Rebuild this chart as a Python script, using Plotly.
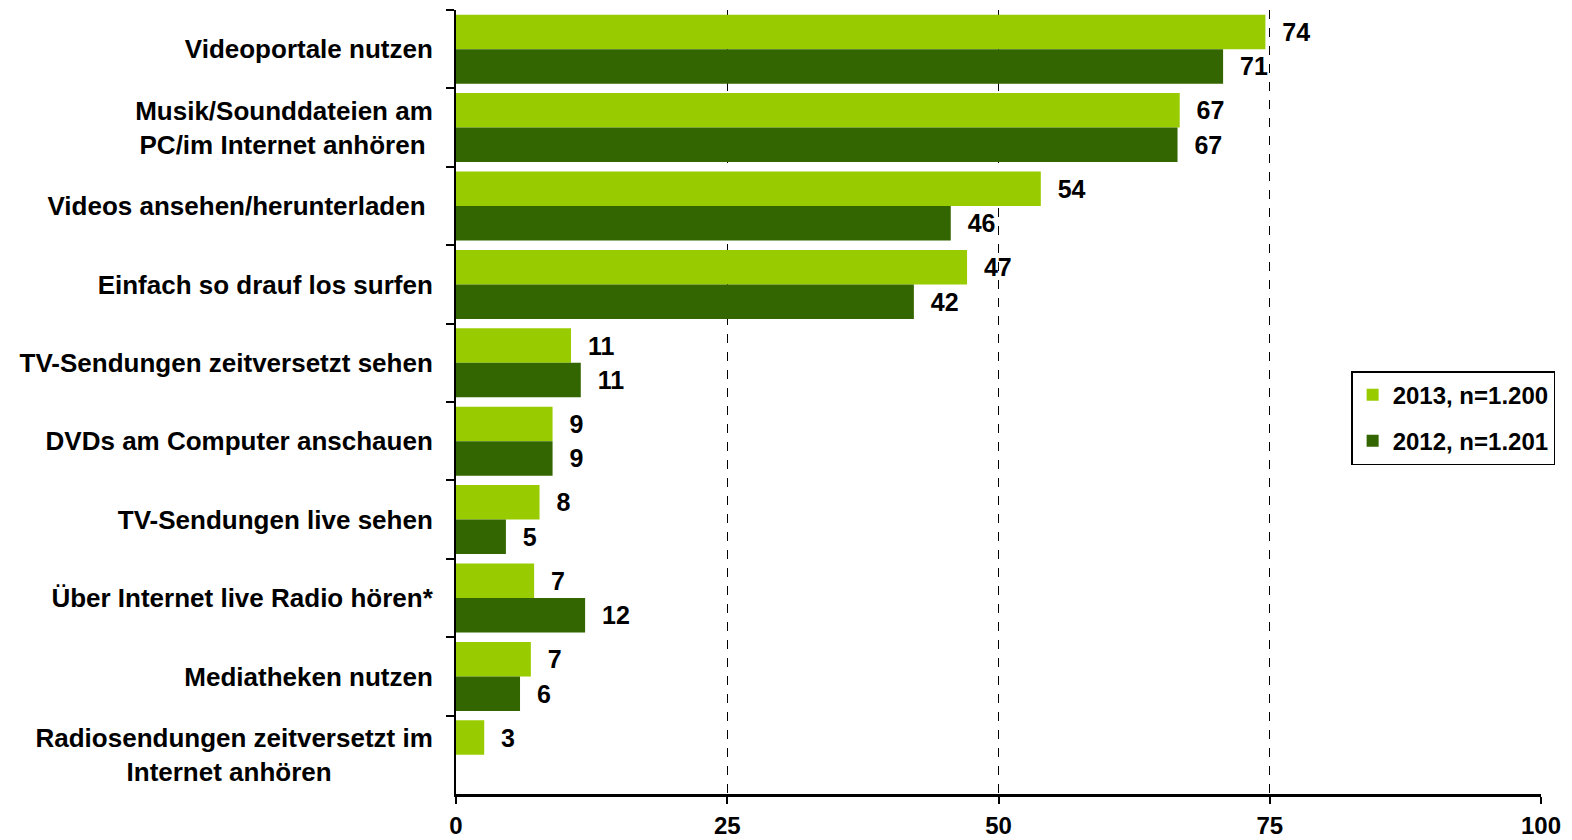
import plotly.graph_objects as go

categories = [
    "Videoportale nutzen",
    "Musik/Sounddateien am<br>PC/im Internet anhören\u00a0",
    "Videos ansehen/herunterladen\u00a0",
    "Einfach so drauf los surfen",
    "TV-Sendungen zeitversetzt sehen",
    "DVDs am Computer anschauen",
    "TV-Sendungen live sehen",
    "Über Internet live Radio hören*",
    "Mediatheken nutzen",
    "Radiosendungen zeitversetzt im<br>Internet anhören" + "\u00a0" * 14,
]
values_2013 = [74.6, 66.7, 53.9, 47.1, 10.6, 8.9, 7.7, 7.2, 6.9, 2.6]
values_2012 = [70.7, 66.5, 45.6, 42.2, 11.5, 8.9, 4.6, 11.9, 5.9, None]
labels_2013 = [74, 67, 54, 47, 11, 9, 8, 7, 7, 3]
labels_2012 = [71, 67, 46, 42, 11, 9, 5, 12, 6, None]
series_names = ["2013, n=1.200", "2012, n=1.201"]
x_ticks = [0, 25, 50, 75, 100]

FONT = "Liberation Sans, Arial, sans-serif"
PAD = "\u00a0\u00a0"

def fmt(labels):
    return [("" if v is None else PAD + str(v)) for v in labels]

fig = go.Figure()
fig.add_trace(go.Bar(
    y=categories, x=values_2013, orientation="h", name=series_names[0],
    marker=dict(color="#99CC00", line=dict(width=0)),
    text=fmt(labels_2013), textposition="outside", constraintext="none",
    cliponaxis=False, legendgroup="a",
    textfont=dict(family=FONT, size=25, color="black", weight="bold"),
))
fig.add_trace(go.Bar(
    y=categories, x=values_2012, orientation="h", name=series_names[1],
    marker=dict(color="#336600", line=dict(width=0)),
    text=fmt(labels_2012), textposition="outside", constraintext="none",
    cliponaxis=False, legendgroup="b",
    textfont=dict(family=FONT, size=25, color="black", weight="bold"),
))

fig.update_layout(
    width=1572, height=840,
    margin=dict(l=448, r=39, t=2, b=54, autoexpand=False),
    paper_bgcolor="white", plot_bgcolor="white",
    barmode="group", bargap=0.12, bargroupgap=0,
    font=dict(family=FONT, size=24, color="black", weight="bold"),
    legend=dict(
        x=0.825, y=0.5395, xanchor="left", yanchor="top",
        bordercolor="black", borderwidth=1.5, bgcolor="white",
        font=dict(family=FONT, size=24, color="black", weight="bold"),
        traceorder="grouped", tracegroupgap=12,
    ),
    showlegend=True,
)
fig.update_xaxes(
    range=[0, 100], tickvals=x_ticks, ticktext=[str(t) for t in x_ticks],
    showgrid=True, gridcolor="black", griddash="dash", gridwidth=1.4,
    zeroline=False, showline=True, linecolor="black", linewidth=2.5,
    ticks="outside", ticklen=7, tickcolor="black", tickwidth=1.5,
    ticklabelstandoff=1, automargin=False,
    tickfont=dict(family=FONT, size=24, color="black", weight="bold"),
)
fig.update_yaxes(
    type="category", autorange="reversed", categoryorder="array",
    categoryarray=categories,
    showgrid=False, zeroline=False, showline=True, linecolor="black", linewidth=2,
    ticks="outside", tickson="boundaries", ticklen=8, tickcolor="black", tickwidth=1.5,
    ticklabelstandoff=16, automargin=False,
    tickfont=dict(family=FONT, size=26, color="black", weight="bold"),
)

fig.write_html("out.html")
